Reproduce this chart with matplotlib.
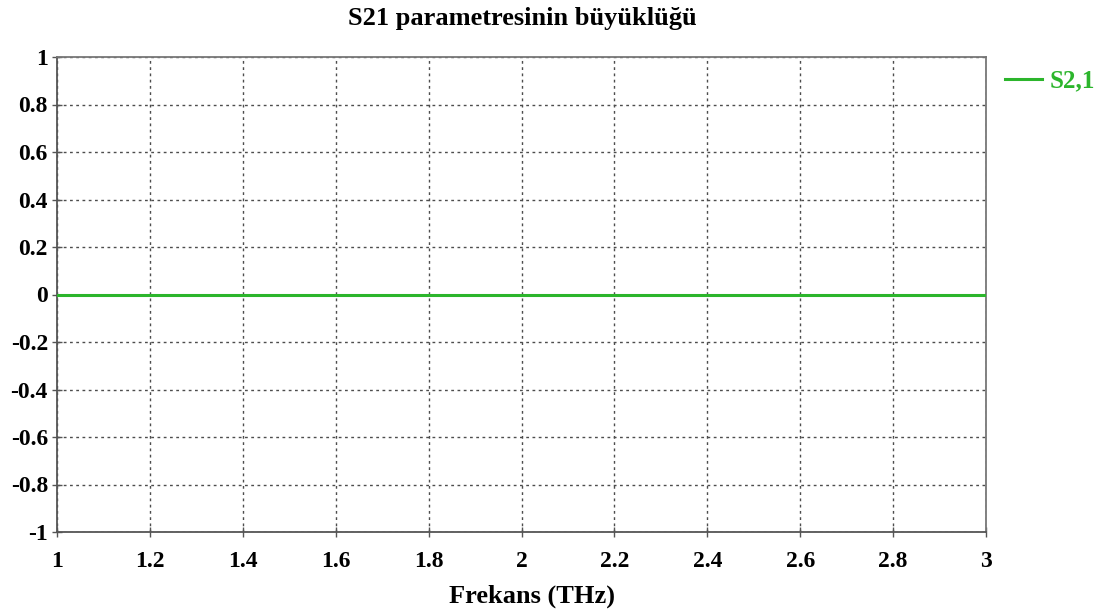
import matplotlib
matplotlib.use("Agg")
import matplotlib.pyplot as plt
import numpy as np

freq_thz = [1.0, 1.2, 1.4, 1.6, 1.8, 2.0, 2.2, 2.4, 2.6, 2.8, 3.0]
s21_mag = [0, 0, 0, 0, 0, 0, 0, 0, 0, 0, 0]
x_ticks = [1, 1.2, 1.4, 1.6, 1.8, 2, 2.2, 2.4, 2.6, 2.8, 3]
x_labels = ["1", "1.2", "1.4", "1.6", "1.8", "2", "2.2", "2.4", "2.6", "2.8", "3"]
y_ticks = [1, 0.8, 0.6, 0.4, 0.2, 0, -0.2, -0.4, -0.6, -0.8, -1]
y_labels = ["1", "0.8", "0.6", "0.4", "0.2", "0", "-0.2", "-0.4", "-0.6", "-0.8", "-1"]
title = "S21 parametresinin büyüklüğü"
xlabel = "Frekans (THz)"
series_name = "S2,1"

plt.rcParams['font.family'] = ['Liberation Serif', 'DejaVu Serif']
green = '#2cb52c'

fig = plt.figure(figsize=(11.04, 6.15), dpi=100)
W, H = 1104, 615
ax = fig.add_axes([57 / W, 1 - 532 / H, (986 - 57) / W, (532 - 57) / H])

ax.plot(freq_thz, s21_mag, color=green, lw=2.2, label=series_name, zorder=3)
ax.set_xlim(1, 3)
ax.set_ylim(-1, 1)
ax.set_xticks(x_ticks)
ax.set_xticklabels(x_labels, fontsize=17, fontweight='bold')
ax.set_yticks(y_ticks)
ax.set_yticklabels(y_labels, fontsize=17, fontweight='bold')
ax.grid(True, color='#4d4d4d', linestyle=(0, (2, 2.5)), linewidth=1.0)
ax.tick_params(direction='inout', length=7, width=1.0, color='#555555', pad=3)
ax.tick_params(axis='x', pad=10)
for s in ax.spines.values():
    s.set_color('#777777')
    s.set_linewidth(1.3)
ax.spines['left'].set_color('#555555')
ax.spines['bottom'].set_color('#555555')

fig.text(522 / W, 1 - 18 / H, title, ha='center', va='center', fontsize=19, fontweight='bold')
fig.text(532 / W, 1 - 596 / H, xlabel, ha='center', va='center', fontsize=19, fontweight='bold')

ax.legend(loc='upper left', bbox_to_anchor=(1.0, 1.013), frameon=False,
          prop={'size': 18, 'weight': 'bold'}, labelcolor=green,
          handlelength=1.5, handletextpad=0.3, borderaxespad=0.35)

fig.savefig("out.png", dpi=100)
